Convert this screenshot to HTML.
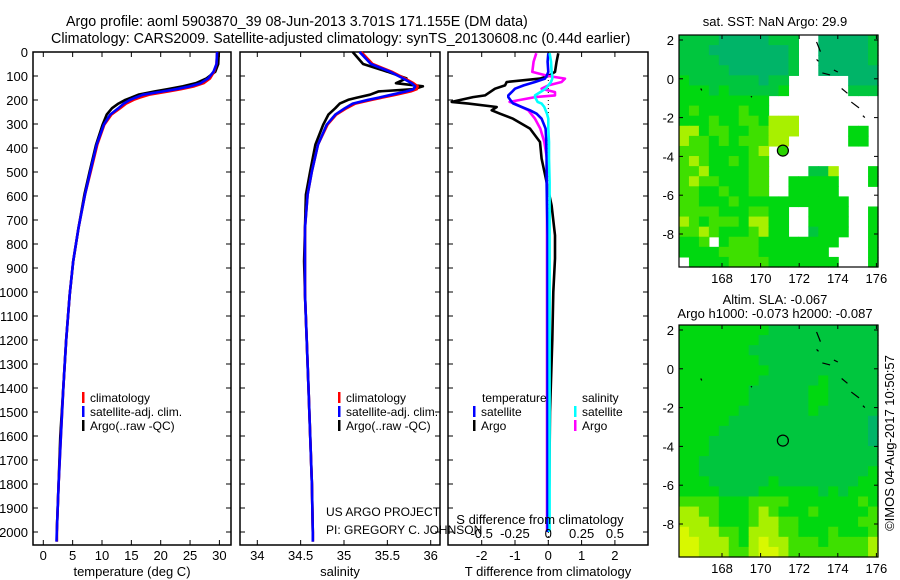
<!DOCTYPE html>
<html><head><meta charset="utf-8"><style>
html,body{margin:0;padding:0;background:#fff;}
svg{display:block;font-family:"Liberation Sans",sans-serif;}
text{font-size:12px;fill:#000;}
</style></head><body>
<svg id="chart" width="900" height="580" viewBox="0 0 900 580" xmlns="http://www.w3.org/2000/svg">
<text x="66" y="26" style="font-size:14.3px">Argo profile: aoml 5903870_39 08-Jun-2013 3.701S 171.155E (DM data)</text>
<text x="51" y="43" style="font-size:14.3px">Climatology: CARS2009. Satellite-adjusted climatology: synTS_20130608.nc (0.44d earlier)</text>
<g id="g"></g>
</svg>
<script>
// ---- profile data ----
const depths = [0,50,82,110,130,143,155,164,178,190,199,215,234,261,303,386,497,594,733,872,1011,1198,1400,1600,1800,2000,2040];
const climT = [29.6,29.5,29.1,28.4,27.3,25.7,23.4,21.4,18.0,16.4,15.4,14.1,13.1,11.6,10.4,9.2,8.1,7.1,6.0,5.1,4.5,3.9,3.4,3.0,2.6,2.3,2.3];
const satT  = [29.6,29.5,29.0,28.1,26.8,25.0,22.6,20.4,17.0,15.7,14.8,13.7,12.8,11.4,10.3,9.1,8.0,7.1,6.0,5.1,4.5,3.9,3.4,3.0,2.6,2.3,2.25];
const argoT = [29.9,29.8,29.3,27.8,26.0,23.8,21.2,19.0,16.2,15.0,14.0,12.8,11.7,10.8,10.1,9.0,7.9,7.0,6.0,5.1,4.5,3.9,3.4,2.9,2.6,2.3,2.3];
const climS = [35.2,35.33,35.55,35.70,35.80,35.85,35.84,35.77,35.6,35.44,35.32,35.13,35.03,34.91,34.81,34.70,34.63,34.58,34.55,34.55,34.55,34.57,34.59,34.61,34.63,34.64,34.64];
const satS  = [35.18,35.31,35.53,35.68,35.78,35.82,35.80,35.72,35.55,35.40,35.28,35.10,35.01,34.90,34.80,34.70,34.63,34.58,34.55,34.55,34.55,34.57,34.59,34.61,34.63,34.64,34.64];
const argoS = [35.10,35.22,35.50,35.72,35.60,35.91,35.80,35.40,35.30,35.15,35.05,34.95,34.90,34.82,34.76,34.67,34.61,34.56,34.55,34.54,34.55,34.57,34.59,34.61,34.63,34.64,34.64];
const diffDepths = [5,40,83,100,111,125,139,153,167,181,188,208,215,229,243,257,278,319,375,444,542,639,764,861,1000,1200,1500,1800,2000];
const dTargo = [0.3,0.25,0.2,0.0,-0.25,-1.25,-1.3,-1.6,-1.75,-1.9,-2.26,-2.9,-2.4,-1.55,-1.7,-1.45,-1.06,-0.55,-0.25,-0.2,-0.05,0.1,0.2,0.2,0.15,0.12,0.05,0.03,0.0];
const dTsat  = [0.0,-0.02,0.0,-0.05,-0.1,-0.4,-0.74,-1.0,-1.1,-1.2,-1.2,-1.1,-1.05,-0.8,-0.55,-0.35,-0.2,-0.08,-0.06,-0.05,-0.05,-0.04,-0.02,-0.02,-0.02,-0.02,-0.02,-0.02,-0.02];
const dSargo = [-0.09,-0.11,-0.12,0.0,0.125,0.1,0.0,-0.05,0.05,0.05,-0.1,-0.29,-0.25,-0.2,-0.15,-0.13,-0.1,-0.06,-0.03,-0.01,-0.01,-0.01,-0.01,-0.01,-0.01,-0.01,-0.01,-0.01,-0.01];
const dSsat  = [0.01,0.02,0.025,0.03,0.03,0.02,0.0,-0.02,-0.06,-0.1,-0.1,-0.08,-0.05,-0.03,-0.02,-0.01,0,0,0.005,0.005,0.01,0.01,0.01,0.01,0.01,0.01,0.01,0.01,0.01];
const depthTicks = [0,100,200,300,400,500,600,700,800,900,1000,1100,1200,1300,1400,1500,1600,1700,1800,1900,2000];
const tempTicks = [0,5,10,15,20,25,30];
const salTicks = [34,34.5,35,35.5,36];
const salTickLabels = ["34","34.5","35","35.5","36"];
const dTTicks = [-2,-1,0,1,2];
const dSTicks = [-0.5,-0.25,0,0.25,0.5];
const dSTickLabels = ["-0.5","-0.25","0","0.25","0.5"];
// ---- map data ----
const latTicks = [-8,-6,-4,-2,0,2];
const lonTicks = [168,170,172,174,176];
const argoLon = 171.155, argoLat = -3.701;
const sstGrid = [
"bbbbaaaaabbb..aaaaab","bbbaaaaaaaab..aaaaab","bbbbaaaaaaab..aaaaab","bbbbbaaaaaab..aaaaaa",
"cbbbbbbbabb......aaa","cccbcbbbbbc......bbb","ccccccccc...........","cdccccdcc...........",
"cccdccddceee........","eecddccddeee.....cc.","eddcdcdddee......cc.","dddccccde...........",
"dedccdcdd...........","ddeccccdd....bbe...c","deddcccdd..ccccc...c","ddccdccdd..ccccc....",
"ddcccdccccccccccc...","ddddcccddcc..cccc..c","edcdddceecc..cccc..c","ddedcccdecc..bccc..c",
"ccd.cdddcccccccc...c","ccccddddccccccc....c",".ccccddddccccccc...c"];
const slaGrid = [
"cccccccccbbbbbbbbbbb","ccccccccbbbbbbbbbbbb","cccccccbbbbbbbbbbbbb","ccccccccbbbbbbbbbbbb",
"cccccccccbbbbbbbbbbb","ccccccccbbbbbbcbbbbb","cccccccbbbbbbccbbbbb","cccccccbbbbbbccbbbbb",
"ccccccbbbbbbbcbbbbbb","cccccbbbbbbbbbbbbbba","ccccbbbbbbbbbbbbbbba","cccbbbbbbbbbbbbbbbba",
"cccbbbbbbbbbbbbbbbbb","ccbbbbbbbbbbbbbbbbbb","ccbbbbbbbbbbbbbbbbbc","cccbbbbbbcbbbbbbbbcc",
"ccccbbbbccccccbcbccc","ddddcccddddcccccccdc","eeddcccdedcccdcccccd","eeedcccdeeddccccccdd",
"feeeddceeeddcccdcccd","ffeeedcefeedddcdddde","ffeeeddeffedddddddde"];

const NS="http://www.w3.org/2000/svg";
const root=document.getElementById('g');
function el(tag,attrs,parent){const e=document.createElementNS(NS,tag);for(const k in attrs)e.setAttribute(k,attrs[k]);(parent||root).appendChild(e);return e;}
function txt(s,x,y,anchor,parent,size){const t=el('text',{x:x,y:y,'text-anchor':anchor||'start'},parent);if(size)t.style.fontSize=size+'px';t.textContent=s;return t;}

const yTop=52, yBot=545;
function yD(d){return yTop+d*0.24;}

function panel(name,x0,x1,xf,ticks,labels,xlabel,showY){
  const g=el('g',{});
  
  
  const fr=el('rect',{x:x0,y:yTop,width:x1-x0,height:yBot-yTop,fill:'none',stroke:'#000','stroke-width':1.5},g);
  
  
  ticks.forEach((v,i)=>{const x=xf(v);
    el('line',{x1:x,x2:x,y1:yTop,y2:yTop+5,stroke:'#000'},g);
    el('line',{x1:x,x2:x,y1:yBot,y2:yBot-5,stroke:'#000'},g);
    if(labels){const t=txt(labels[i],x,560,'middle',g,13);
      
      }
  });
  depthTicks.forEach(d=>{const y=yD(d);
    el('line',{x1:x0,x2:x0+5,y1:y,y2:y,stroke:'#000'},g);
    el('line',{x1:x1,x2:x1-5,y1:y,y2:y,stroke:'#000'},g);
    if(showY){const t=txt(String(d),28,y+5,'end',g,13);
      
      }
  });
  const xl=txt(xlabel,(x0+x1)/2,576,'middle',g,13);
  
  
  return g;
}
function line(g,xs,ds,xf,color,name,w){
  const pts=xs.map((v,i)=>xf(v).toFixed(1)+','+yD(ds[i]).toFixed(1)).join(' ');
  const p=el('polyline',{points:pts,fill:'none',stroke:color,'stroke-width':w||2.6,'stroke-linejoin':'round'},g);
  
  
}
function legend(g,x,y,color,label,name){
  const r=el('rect',{x:x,y:y-10,width:2.5,height:11,fill:color},g);
  
  
  const t=txt(label,x+8,y,'start',g);
  
  
}

// Panel 1 temperature
const xT=v=>43.3+v*5.87;
const g1=panel('temperature-panel',33,231,xT,tempTicks,tempTicks.map(String),'temperature (deg C)',true);
line(g1,argoT,depths,xT,'#000','argo-temperature-line');
line(g1,climT,depths,xT,'#f00','climatology-temperature-line');
line(g1,satT,depths,xT,'#00f','satellite-temperature-line');
legend(g1,82,402,'#f00','climatology','legend-climatology');
legend(g1,82,416,'#00f','satellite-adj. clim.','legend-satellite');
legend(g1,82,430,'#000','Argo(..raw -QC)','legend-argo');

// Panel 2 salinity
const xS=v=>257.3+(v-34)*86.7;
const g2=panel('salinity-panel',240,440,xS,salTicks,salTickLabels,'salinity',false);
line(g2,argoS,depths,xS,'#000','argo-salinity-line');
line(g2,climS,depths,xS,'#f00','climatology-salinity-line');
line(g2,satS,depths,xS,'#00f','satellite-salinity-line');
legend(g2,338,402,'#f00','climatology','legend-climatology');
legend(g2,338,416,'#00f','satellite-adj. clim.','legend-satellite');
legend(g2,338,430,'#000','Argo(..raw -QC)','legend-argo');
const c1=txt('US ARGO PROJECT',326,516,'start',g2);


const c2=txt('PI: GREGORY C. JOHNSON',326,534,'start',g2);



// Panel 3 differences
const xdT=v=>548.3+v*33.3;
const xdS=v=>548.3+v*133.3;
const g3=panel('difference-panel',448,648,xdT,dTTicks,dTTicks.map(String),'T difference from climatology',false);
const dl=el('line',{x1:548.3,x2:548.3,y1:yTop,y2:yBot,stroke:'#000','stroke-dasharray':'1,3'},g3);


line(g3,dTargo,diffDepths,xdT,'#000','argo-t-diff-line');
line(g3,dSargo,diffDepths,xdS,'#f0f','argo-s-diff-line');
line(g3,dTsat,diffDepths,xdT,'#00f','satellite-t-diff-line');
line(g3,dSsat,diffDepths,xdS,'#0ff','satellite-s-diff-line');
dSTicks.forEach((v,i)=>{const t=txt(dSTickLabels[i],xdS(v),538,'middle',g3,13);
  
  });
const st=txt('S difference from climatology',540,524,'middle',g3,13);


const lt=txt('temperature',482,402,'start',g3);


const ls=txt('salinity',582,402,'start',g3);


legend(g3,473,416,'#00f','satellite','legend-t-satellite');
legend(g3,473,430,'#000','Argo','legend-t-argo');
legend(g3,574,416,'#0ff','satellite','legend-s-satellite');
legend(g3,574,430,'#f0f','Argo','legend-s-argo');

// Maps
const colors={a:'#00b468',b:'#00c63e',c:'#00d810',d:'#3ee000',e:'#a8f000',f:'#d8f800'};
function map(name,y0,grid,filled){
  const x0=679,x1=878,y1=y0+232;
  const g=el('g',{});
  
  
  const lonL=168-43/19.3, latT=2+5/19.4;
  const lx=v=>x0+(v-lonL)*19.3, ly=v=>y0+(latT-v)*19.4;
  const rows=grid.length, cols=grid[0].length;
  const cw=(x1-x0)/cols, ch=(y1-y0)/rows;
  grid.forEach((row,r)=>{[...row].forEach((c,k)=>{
    if(c==='.')return;
    const cell=el('rect',{x:x0+k*cw,y:y0+r*ch,width:cw+0.6,height:ch+0.6,fill:colors[c]},g);
    
    
  });});
  const fr=el('rect',{x:x0,y:y0,width:x1-x0,height:y1-y0,fill:'none',stroke:'#000','stroke-width':1.2},g);
  
  
  latTicks.forEach(v=>{const y=ly(v);
    el('line',{x1:x0,x2:x0+4,y1:y,y2:y,stroke:'#000'},g);
    el('line',{x1:x1,x2:x1-4,y1:y,y2:y,stroke:'#000'},g);
    const t=txt(String(v),674,y+5,'end',g,13);
    
    });
  lonTicks.forEach(v=>{const x=lx(v);
    el('line',{x1:x,x2:x,y1:y0,y2:y0+4,stroke:'#000'},g);
    el('line',{x1:x,x2:x,y1:y1,y2:y1-4,stroke:'#000'},g);
    const t=txt(String(v),x,y1+16,'middle',g,13);
    
    });
  const coast=[[172.9,1.9,173.1,1.4],[173.2,0.3,173.6,0.2],[173.8,0.45,174.0,0.35],[174.2,-0.5,174.5,-0.75],[174.7,-1.2,175.1,-1.5],[175.3,-1.9,175.4,-2.0],[172.9,1.0,173.0,0.9],[169.5,-0.9,169.55,-0.95],[166.9,-0.5,166.95,-0.6]];
  coast.forEach(c=>{const l=el('line',{x1:lx(c[0]),y1:ly(c[1]),x2:lx(c[2]),y2:ly(c[3]),stroke:'#000','stroke-width':1.2},g);
    
    });
  const m=el('circle',{cx:lx(argoLon),cy:ly(argoLat),r:5.5,fill:filled?'#2ad400':'none',stroke:'#000','stroke-width':1.2},g);
  
  
  return g;
}
map('sst-map',35,sstGrid,true);
map('sla-map',325,slaGrid,false);
const mt1=txt('sat. SST: NaN Argo: 29.9',775,26,'middle',root,13);


const mt2=txt('Altim. SLA: -0.067',775,304,'middle',root,13);


const mt3=txt('Argo h1000: -0.073 h2000: -0.087',775,318,'middle',root,13);


const cr=txt('©IMOS 04-Aug-2017 10:50:57',0,0,'middle',root,13);
cr.setAttribute('transform','translate(894,443) rotate(-90)');


</script>
</body></html>
